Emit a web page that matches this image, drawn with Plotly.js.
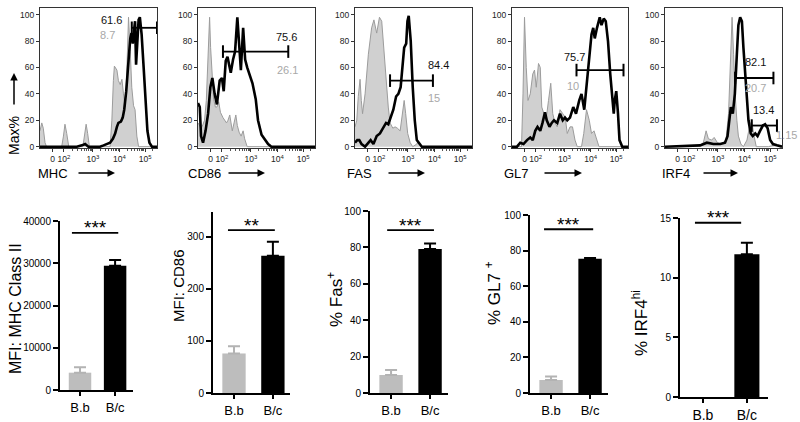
<!DOCTYPE html>
<html><head><meta charset="utf-8">
<script src="https://cdn.plot.ly/plotly-3.0.1.min.js"></script>
<style>html,body{margin:0;padding:0;background:#fff}#chart{width:800px;height:422px}</style>
</head><body><div id="chart"></div>
<script>
// ---------- DATA ----------
// Histogram x values are in display (biexponential) axis units; y is % of max.
const histTickVals = [1.3, 1.75, 2.9, 3.95, 4.97];
const histTickText = ['0', '10<sup>2</sup>', '10<sup>3</sup>', '10<sup>4</sup>', '10<sup>5</sup>'];
const histMarkers = ['MHC', 'CD86', 'FAS', 'GL7', 'IRF4'];

const mhcCtrlX = [0.80,0.87,0.93,1.00,1.06,1.66,1.73,1.79,1.86,1.94,2.50,2.56,2.63,2.69,2.76,3.58,3.65,3.71,3.75,3.85,3.91,3.98,4.05,4.11,4.18,4.24,4.31,4.38,4.44,4.51,4.57,4.64,4.71,5.44];
const mhcCtrlY = [12,18,14,3,0,0,8,17,10,0,0,8,17,10,0,0,20,50,61,58,50,47,51,40,30,55,98,72,45,31,28,8,0,0];
const mhcX = [0.80,2.26,2.46,2.59,2.72,3.18,3.32,3.45,3.58,3.69,3.78,3.85,3.91,4.01,4.08,4.14,4.22,4.31,4.38,4.43,4.48,4.54,4.57,4.61,4.65,4.71,4.76,4.83,4.91,4.99,5.06,5.14,5.24,5.44];
const mhcY = [0,0,1,2,0,0,1,2,3,6,10,15,18,19,22,28,42,65,82,86,78,90,95,62,80,96,98,85,60,32,12,3,0,0];

const cd86CtrlX = [0.80,0.87,0.93,1.00,1.06,1.13,1.20,1.26,1.30,1.36,1.42,1.49,1.55,1.62,1.69,1.79,1.93,1.99,2.06,2.11,2.16,2.23,2.30,2.36,2.43,2.51,2.59,2.65,2.75,5.44];
const cd86CtrlY = [18,16,14,17,20,35,75,98,75,50,36,30,30,34,26,22,18,20,24,18,12,18,24,16,11,8,12,6,0,0];
const cd86X = [0.80,0.87,0.92,1.00,1.10,1.20,1.29,1.37,1.46,1.55,1.66,1.75,1.82,1.90,1.97,2.03,2.10,2.19,2.27,2.36,2.43,2.50,2.59,2.67,2.75,2.85,2.96,3.09,3.18,3.32,3.45,3.58,3.71,5.44];
const cd86Y = [33,30,8,3,12,25,45,52,40,32,50,52,42,65,68,62,56,66,72,98,76,58,90,66,60,55,48,36,20,9,5,2,0,0];

const fasCtrlX = [0.80,0.87,0.93,1.00,1.05,1.10,1.20,1.33,1.46,1.55,1.66,1.77,1.86,1.95,2.06,2.12,2.19,2.30,2.39,2.48,2.59,2.67,2.75,2.81,2.89,2.99,3.09,3.25,3.32,3.38,3.45,5.44];
const fasCtrlY = [15,20,38,51,35,25,40,70,90,96,86,98,95,70,45,30,18,14,15,14,12,25,35,25,10,3,0,2,4,2,0,0];
const fasX = [0.80,0.89,0.97,1.06,1.20,1.33,1.42,1.53,1.66,1.79,1.93,2.03,2.12,2.22,2.32,2.43,2.52,2.61,2.69,2.75,2.83,2.88,2.93,3.01,3.09,3.17,3.25,3.36,3.45,5.44];
const fasY = [3,5,5,2,0,3,5,2,8,10,15,18,17,22,28,38,40,45,60,75,78,95,99,80,45,20,5,2,0,0];

const gl7CtrlX = [0.80,1.18,1.24,1.30,1.37,1.44,1.53,1.63,1.70,1.77,1.86,1.93,1.99,2.06,2.16,2.26,2.35,2.43,2.52,2.61,2.72,2.83,2.93,3.01,3.12,3.22,3.32,3.41,3.58,3.67,3.78,3.89,3.98,4.08,4.18,4.28,5.44];
const gl7CtrlY = [0,0,40,98,60,35,40,55,58,45,63,60,30,25,20,35,48,25,18,15,28,25,22,10,15,15,5,0,0,10,28,20,10,12,5,0,0];
const gl7X = [0.80,1.00,1.13,1.26,1.40,1.53,1.63,1.73,1.82,1.93,2.02,2.12,2.19,2.30,2.39,2.48,2.61,2.72,2.83,2.92,3.01,3.12,3.25,3.36,3.49,3.58,3.69,3.78,3.89,3.98,4.05,4.11,4.20,4.31,4.38,4.47,4.55,4.64,4.73,4.81,4.87,4.91,4.97,5.04,5.10,5.21,5.44];
const gl7Y = [0,0,3,2,5,7,5,12,15,12,18,26,20,15,18,20,18,25,20,22,20,22,30,25,35,40,28,45,65,85,90,82,90,98,92,97,95,80,55,38,25,35,42,25,5,0,0];

const irf4CtrlX = [0.80,2.19,2.32,2.43,2.52,2.65,2.75,2.88,3.05,3.22,3.32,3.38,3.46,3.52,3.58,3.65,3.71,3.81,3.91,4.05,4.15,4.24,4.31,4.42,4.90,5.10,5.24,5.44];
const irf4CtrlY = [0,1,3,12,6,5,7,3,2,5,25,60,98,70,40,20,8,2,0,5,15,20,10,0,0,1,1,0];
const irf4X = [0.80,1.79,2.19,2.46,2.72,2.99,3.18,3.28,3.36,3.41,3.49,3.57,3.65,3.71,3.78,3.85,3.91,4.02,4.11,4.20,4.28,4.38,4.47,4.57,4.68,4.77,4.87,4.97,5.08,5.24,5.44];
const irf4Y = [0,0.5,1,3,2,2,3,8,20,30,25,40,70,92,98,95,75,40,20,10,8,10,8,12,16,17,14,5,2,1,0];

// gates (low edge, high edge, level in % max) and their percentages
const gatePanel = [0, 1, 2, 3, 4, 4];
const gateLow   = [4.44, 1.79, 2.19, 3.38, 3.58, 4.24];
const gateHigh  = [5.44, 4.38, 3.89, 5.26, 5.10, 5.24];
const gateLevel = [90, 72, 50, 58, 52, 16];
const gatePosPct  = ['61.6', '75.6', '84.4', '75.7', '82.1', '13.4'];
const gateCtrlPct = ['8.7', '26.1', '15', '10', '20.7', '1.15'];

// bar charts
const groups = ['B.b', 'B/c'];
const mhcMean  = [4100, 29400];  const mhcErr  = [1270, 1350];
const cd86Mean = [76, 264];      const cd86Err = [14, 27];
const fasMean  = [9.9, 79.1];    const fasErr  = [2.7, 3.1];
const gl7Mean  = [7.3, 75.4];    const gl7Err  = [1.9, 0.4];
const irf4Mean = [0, 11.96];     const irf4Err = [0, 0.97];
const barTitles = ['MFI: MHC Class II', 'MFI: CD86', '% Fas<sup>+</sup>', '% GL7 <sup>+</sup>', '% IRF4<sup>hi</sup>'];
const sigLabels = ['***', '**', '***', '***', '***'];

// ---------- LAYOUT HELPERS ----------
const W = 800, H = 422;
const FONT = 'Liberation Sans, Arial, Helvetica, sans-serif';
const px = x => x / W;
const py = y => 1 - y / H;

const histCtrl = [[mhcCtrlX, mhcCtrlY], [cd86CtrlX, cd86CtrlY], [fasCtrlX, fasCtrlY], [gl7CtrlX, gl7CtrlY], [irf4CtrlX, irf4CtrlY]];
const histSamp = [[mhcX, mhcY], [cd86X, cd86Y], [fasX, fasY], [gl7X, gl7Y], [irf4X, irf4Y]];
const histBox = [[40, 157], [198, 315], [355, 472], [512, 628], [665, 782]];
const histTop = 8, histBot = 148;
const histLabelPos = [[52.5, 77, 115], [205, 227, 265], [359.5, 387, 425], [516.5, 543, 582], [676, 702, 738]];
const gatePosXY  = [[111, 20], [286, 37], [439, 65], [574, 57], [755, 62], [763, 110]];
const gateCtrlXY = [[107, 35], [287, 70], [434, 98], [573, 86], [755, 88], [786, 135]];

const barMeans = [mhcMean, cd86Mean, fasMean, gl7Mean, irf4Mean];
const barErrs = [mhcErr, cd86Err, fasErr, gl7Err, irf4Err];
const barBox = [
  {l: 60,  r: 133, t: 221, b: 390, xr: [-0.57, 1.51], yr: [0, 40000], dt: 10000, w: 0.64, tf: 13},
  {l: 213, r: 290, t: 212, b: 393, xr: [-0.54, 1.44], yr: [0, 348], dt: 100, w: 0.6, tf: 13},
  {l: 370, r: 448, t: 211, b: 393, xr: [-0.54, 1.46], yr: [0, 100], dt: 20, w: 0.6, tf: 13},
  {l: 530, r: 608, t: 215, b: 393, xr: [-0.54, 1.46], yr: [0, 100], dt: 20, w: 0.6, tf: 13},
  {l: 680, r: 768, t: 218, b: 397, xr: [-0.52, 1.48], yr: [0, 15], dt: 5, w: 0.57, tf: 14}
];
const sigPos = [[-0.23, 1.09, 37200], [-0.155, 1.05, 313], [-0.10, 1.10, 89.5], [-0.18, 1.08, 92], [-0.18, 0.87, 14.6]];
const titlePos = [[15, 309, 16], [178, 286, 15], [335, 300, 17], [493, 293, 17], [640, 323, 17]];

// minor (log) ticks between the decade labels
const minorVals = [];
for (let d = 1; d < histTickVals.length - 1; d++) {
  const a = histTickVals[d], b = histTickVals[d + 1];
  for (let k = 2; k <= 9; k++) minorVals.push(a + Math.log10(k) * (b - a));
}
{
  const a = histTickVals[4], step = histTickVals[4] - histTickVals[3];
  for (let k = 2; k <= 3; k++) { const v = a + Math.log10(k) * step; if (v < 5.44) minorVals.push(v); }
}

const traces = [];
const layout = {
  width: W, height: H, margin: {l: 0, r: 0, t: 0, b: 0},
  paper_bgcolor: '#fff', plot_bgcolor: 'rgba(0,0,0,0)',
  showlegend: false, font: {family: FONT, color: '#000'},
  annotations: [], shapes: []
};

// ---------- HISTOGRAMS ----------
for (let i = 0; i < 5; i++) {
  const k = i + 1, xa = 'x' + k, ya = 'y' + k;
  traces.push({type: 'scatter', mode: 'lines', x: histCtrl[i][0], y: histCtrl[i][1], xaxis: xa, yaxis: ya,
    fill: 'tozeroy', fillcolor: '#d0d0d0', line: {color: '#9c9c9c', width: 1}, hoverinfo: 'skip'});
  traces.push({type: 'scatter', mode: 'lines', x: histSamp[i][0], y: histSamp[i][1], xaxis: xa, yaxis: ya,
    line: {color: '#000', width: 2.6}, hoverinfo: 'skip'});
  const [l, r] = histBox[i];
  layout['xaxis' + (k === 1 ? '' : k)] = {
    domain: [px(l), px(r)], anchor: ya, range: [0.8, 5.44],
    showline: true, mirror: true, linecolor: '#333', linewidth: 1,
    ticks: 'outside', ticklen: 3, tickwidth: 1, tickcolor: '#333',
    tickmode: 'array', tickvals: histTickVals, ticktext: histTickText,
    tickfont: {size: 8.5, color: '#222', family: FONT},
    minor: {tickmode: 'array', tickvals: minorVals, ticks: 'outside', ticklen: 2, tickcolor: '#555', showgrid: false},
    showgrid: false, zeroline: false, fixedrange: true
  };
  layout['yaxis' + (k === 1 ? '' : k)] = {
    domain: [py(histBot), py(histTop)], anchor: xa, range: [-1, 105],
    showline: true, mirror: true, linecolor: '#333', linewidth: 1,
    ticks: 'outside', ticklen: 3, tickwidth: 1, tickcolor: '#333',
    tickmode: 'array', tickvals: [0, 20, 40, 60, 80, 100],
    tickfont: {size: 8.5, color: '#222', family: FONT},
    showgrid: false, zeroline: false, fixedrange: true
  };
  const [cx, a0, a1] = histLabelPos[i];
  layout.annotations.push({xref: 'paper', yref: 'paper', x: px(cx), y: py(173), text: histMarkers[i],
    showarrow: false, font: {size: 13, family: FONT, color: '#000'}, xanchor: 'center', yanchor: 'middle'});
  layout.annotations.push({xref: 'paper', yref: 'paper', x: px(a1), y: py(173), text: '',
    showarrow: true, ax: -(a1 - a0), ay: 0, arrowhead: 2, arrowsize: 1, arrowwidth: 1.5, arrowcolor: '#000'});
}

// gates
for (let g = 0; g < gateLow.length; g++) {
  const k = gatePanel[g] + 1;
  traces.push({type: 'scatter', mode: 'lines+markers', x: [gateLow[g], gateHigh[g]], y: [gateLevel[g], gateLevel[g]],
    xaxis: 'x' + k, yaxis: 'y' + k, cliponaxis: false,
    line: {color: '#000', width: 1.8},
    marker: {symbol: 'line-ns', size: 9, color: '#000', line: {width: 2, color: '#000'}}, hoverinfo: 'skip'});
  layout.annotations.push({xref: 'paper', yref: 'paper', x: px(gatePosXY[g][0]), y: py(gatePosXY[g][1]),
    text: gatePosPct[g], showarrow: false, font: {size: 11, family: FONT, color: '#111'}, xanchor: 'center', yanchor: 'middle'});
  layout.annotations.push({xref: 'paper', yref: 'paper', x: px(gateCtrlXY[g][0]), y: py(gateCtrlXY[g][1]),
    text: gateCtrlPct[g], showarrow: false, font: {size: 11, family: FONT, color: '#a8a8a8'}, xanchor: 'center', yanchor: 'middle'});
}

// Max% label with arrow
layout.annotations.push({xref: 'paper', yref: 'paper', x: px(14), y: py(136), text: 'Max%', textangle: -90,
  showarrow: false, font: {size: 14, family: FONT, color: '#000'}, xanchor: 'center', yanchor: 'middle'});
layout.annotations.push({xref: 'paper', yref: 'paper', x: px(14), y: py(73), text: '',
  showarrow: true, ax: 0, ay: 33, arrowhead: 2, arrowsize: 1, arrowwidth: 1.5, arrowcolor: '#000'});

// ---------- BAR CHARTS ----------
const barColors = ['#bdbdbd', '#000000'];
const errColors = ['#b3b3b3', '#000000'];
for (let i = 0; i < 5; i++) {
  const k = i + 6, xa = 'x' + k, ya = 'y' + k, bb = barBox[i];
  for (let j = 0; j < groups.length; j++) {
    traces.push({type: 'bar', x: [j], y: [barMeans[i][j]], width: [bb.w], xaxis: xa, yaxis: ya,
      marker: {color: barColors[j], line: {width: 0}},
      error_y: {type: 'data', symmetric: false, array: [barErrs[i][j]], arrayminus: [0],
        visible: barErrs[i][j] > 0, color: errColors[j], thickness: 2, width: 6},
      hoverinfo: 'skip'});
  }
  const tv = [];
  for (let v = bb.yr[0]; v <= bb.yr[1] + 1e-9; v += bb.dt) tv.push(v);
  layout['xaxis' + k] = {
    domain: [px(bb.l), px(bb.r)], anchor: ya, range: bb.xr,
    showline: true, linecolor: '#000', linewidth: 2,
    ticks: 'outside', ticklen: 4, tickwidth: 2, tickcolor: '#000',
    tickmode: 'array', tickvals: groups.map((g, j) => j), ticktext: groups,
    tickfont: {size: bb.tf, family: FONT, color: '#000'},
    showgrid: false, zeroline: false, fixedrange: true
  };
  layout['yaxis' + k] = {
    domain: [py(bb.b), py(bb.t)], anchor: xa, range: bb.yr,
    showline: true, linecolor: '#000', linewidth: 2,
    ticks: 'outside', ticklen: 5, tickwidth: 2, tickcolor: '#000',
    tickmode: 'array', tickvals: tv, tickformat: 'd',
    tickfont: {size: 10, family: FONT, color: '#000'},
    showgrid: false, zeroline: false, fixedrange: true
  };
  const [s0, s1, sy] = sigPos[i];
  layout.shapes.push({type: 'line', xref: xa, yref: ya, x0: s0, x1: s1, y0: sy, y1: sy, line: {color: '#000', width: 1.8}});
  layout.annotations.push({xref: xa, yref: ya, x: (s0 + s1) / 2, y: sy, yshift: 5, text: sigLabels[i],
    showarrow: false, font: {size: 19, family: FONT, color: '#000'}, xanchor: 'center', yanchor: 'middle'});
  const [tx, ty, ts] = titlePos[i];
  layout.annotations.push({xref: 'paper', yref: 'paper', x: px(tx), y: py(ty), text: barTitles[i], textangle: -90,
    showarrow: false, font: {size: ts, family: FONT, color: '#000'}, xanchor: 'center', yanchor: 'middle'});
}

Plotly.newPlot('chart', traces, layout, {staticPlot: true, displayModeBar: false});
</script></body></html>
